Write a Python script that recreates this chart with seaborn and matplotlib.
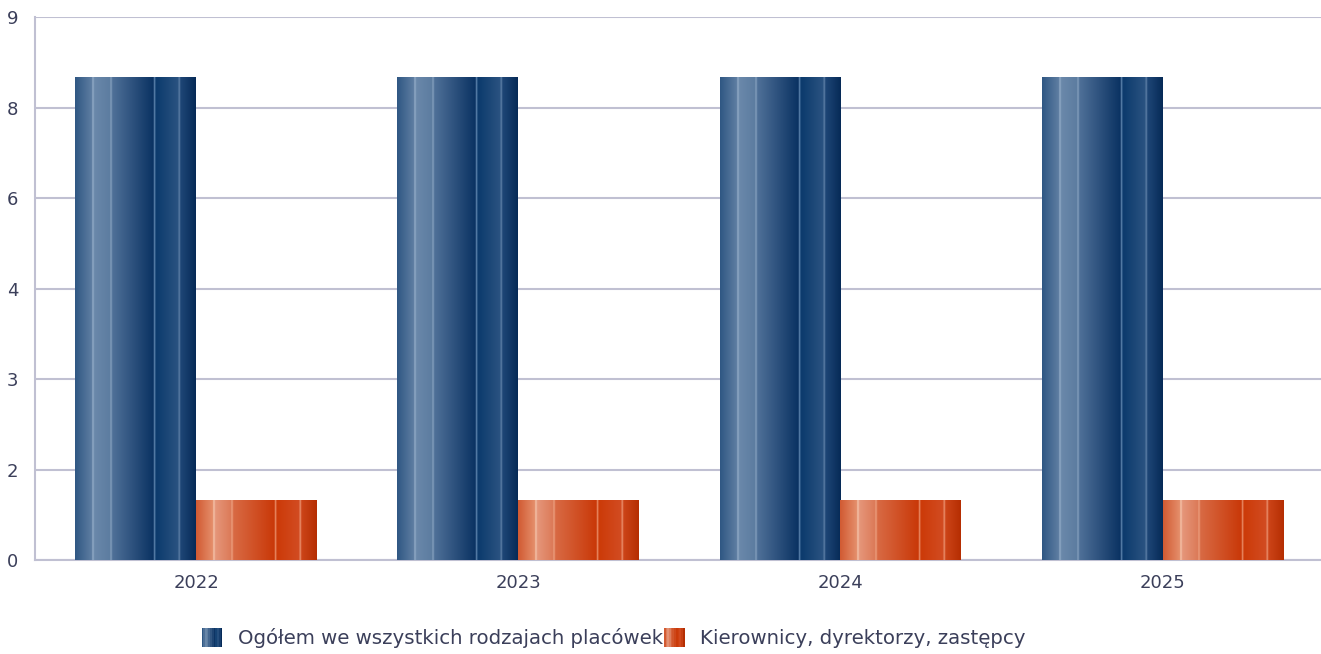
import numpy as np
import pandas as pd
import matplotlib
matplotlib.use("Agg")
import matplotlib.pyplot as plt
from matplotlib.colors import to_rgb
from matplotlib.patches import Rectangle
from matplotlib.legend_handler import HandlerBase
import seaborn as sns

years = ["2022", "2023", "2024", "2025"]
ogolem = [8, 8, 8, 8]
kierownicy = [1, 1, 1, 1]
series_names = ["Ogółem we wszystkich rodzajach placówek", "Kierownicy, dyrektorzy, zastępcy"]
ytick_values = [0, 1.5, 3, 4.5, 6, 7.5, 9]
ytick_labels = ["0", "2", "3", "4", "6", "8", "9"]

df = pd.DataFrame({
    "rok": years * 2,
    "wartosc": ogolem + kierownicy,
    "seria": [series_names[0]] * len(years) + [series_names[1]] * len(years),
})

# Stripe stops for the shaded bar fills: (position, colour)
blue_stops = [
    (0.00, "#2f5783"), (0.14, "#5f7ea2"), (0.145, "#9ab2cc"), (0.16, "#6a88aa"),
    (0.29, "#5c7ca0"), (0.295, "#8ea8c4"), (0.31, "#4f7098"),
    (0.65, "#0a3262"), (0.655, "#6f93bb"), (0.67, "#0b3a6c"),
    (0.855, "#2b5381"), (0.86, "#6a8ab0"), (0.875, "#1e4676"),
    (1.00, "#062a57"),
]
orange_stops = [
    (0.00, "#d15a32"), (0.14, "#e58f6c"), (0.145, "#f7ccb4"), (0.16, "#e5967a"),
    (0.29, "#dc7a58"), (0.295, "#f0a888"), (0.31, "#d86a44"),
    (0.65, "#c93808"), (0.655, "#ef9e7c"), (0.67, "#cc3a08"),
    (0.855, "#d24c22"), (0.86, "#f0a080"), (0.875, "#cc4418"),
    (1.00, "#b52e02"),
]


def gradient_row(stops, n=400):
    xs = np.linspace(0, 1, n)
    pos = np.array([s[0] for s in stops])
    cols = np.array([to_rgb(s[1]) for s in stops])
    row = np.stack([np.interp(xs, pos, cols[:, k]) for k in range(3)], axis=-1)
    return row[np.newaxis, :, :]


text_color = "#3b3f5a"
grid_color = "#c0c0d2"

sns.set_theme(style="white")
plt.rcParams["font.family"] = ["DejaVu Sans"]

fig = plt.figure(figsize=(13.21, 6.54), dpi=100)
ax = fig.add_axes([0.0265, 0.1437, 0.9755, 0.8303])

palette = {series_names[0]: "#1f4876", series_names[1]: "#d04a1e"}
sns.barplot(data=df, x="rok", y="wartosc", hue="seria", palette=palette,
            width=0.75, gap=0, dodge=True, ax=ax, legend=False, zorder=3,
            linewidth=0)

grads = [gradient_row(blue_stops), gradient_row(orange_stops)]
n = len(years)
for i, patch in enumerate(ax.patches[:2 * n]):
    g = grads[i // n]
    x0, w, h = patch.get_x(), patch.get_width(), patch.get_height()
    im = ax.imshow(g, extent=(x0, x0 + w, 0, h), aspect="auto",
                   interpolation="bilinear", zorder=4)
    im.set_clip_path(patch)

ax.set_xlim(-0.5, n - 0.5)
ax.set_ylim(0, 9)
ax.set_yticks(ytick_values)
ax.set_yticklabels(ytick_labels)
ax.set_xlabel("")
ax.set_ylabel("")
ax.yaxis.grid(True, color=grid_color, linewidth=1.5, zorder=0)
ax.set_axisbelow(True)
for side in ["top", "right"]:
    ax.spines[side].set_visible(False)
for side in ["left", "bottom"]:
    ax.spines[side].set_color(grid_color)
    ax.spines[side].set_linewidth(1.5)
ax.tick_params(axis="both", length=0, labelsize=13, colors=text_color)
ax.tick_params(axis="y", pad=12)
ax.tick_params(axis="x", pad=10)


class StripeHandler(HandlerBase):
    def __init__(self, stops):
        super().__init__()
        self.stops = stops

    def create_artists(self, legend, orig_handle, xdescent, ydescent,
                       width, height, fontsize, trans):
        row = gradient_row(self.stops, n=12)[0]
        k = len(row)
        sw = width / k
        arts = []
        for j, c in enumerate(row):
            r = Rectangle((-xdescent + j * sw, -ydescent - 2), sw * 1.05, height + 4,
                          facecolor=c, edgecolor="none", transform=trans)
            arts.append(r)
        return arts


h1 = Rectangle((0, 0), 1, 1)
h2 = Rectangle((0, 0), 1, 1)
fig.legend([h1, h2], series_names, loc="center", bbox_to_anchor=(0.4644, 0.024),
           ncol=2, frameon=False, fontsize=14.2, labelcolor=text_color,
           handlelength=1.05, handletextpad=0.78, columnspacing=0.05,
           handler_map={h1: StripeHandler(blue_stops), h2: StripeHandler(orange_stops)})

fig.savefig("out.png", dpi=100)
